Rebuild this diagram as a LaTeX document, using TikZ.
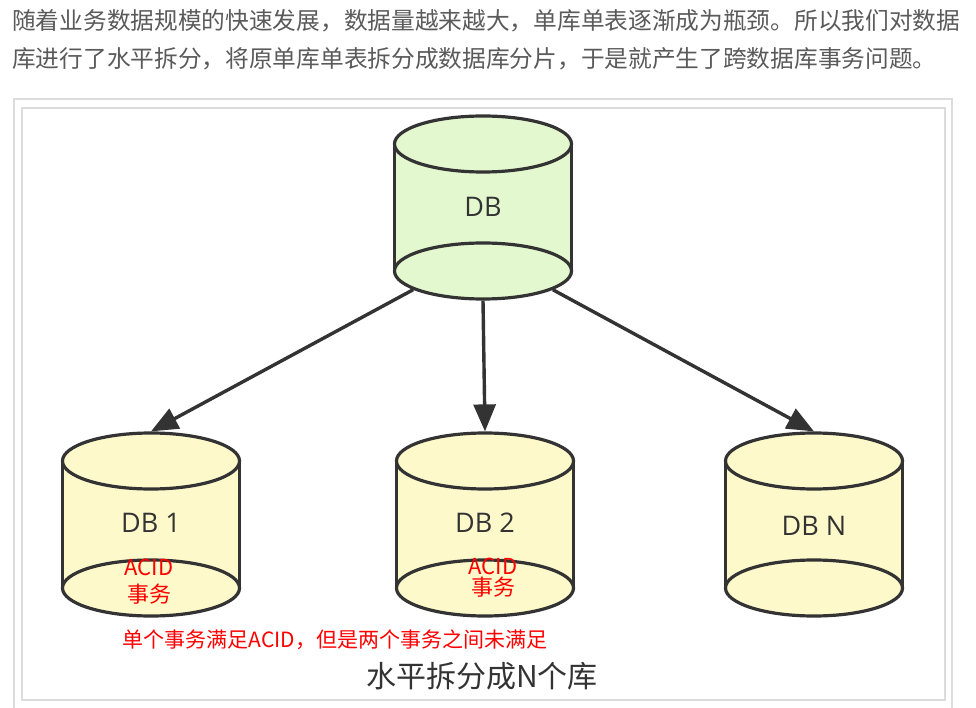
\documentclass[tikz,border=0pt]{standalone}
\usepackage{fontspec}
\setmainfont{Noto Sans CJK SC}
\newfontfamily\dbfont{Open Sans}
\usetikzlibrary{shapes.geometric,arrows.meta}
\definecolor{ink}{HTML}{333333}
\definecolor{dbgreen}{HTML}{E4F8CF}
\definecolor{dbyellow}{HTML}{FDF9CB}
\definecolor{headgray}{HTML}{5A5A5A}
\definecolor{framegray}{HTML}{DCDCDC}
\begin{document}
\begin{tikzpicture}[x=1pt, y=-1pt,
    dbend/.style={draw=ink, ellipse, line width=3.2pt, inner sep=0pt, minimum width=177pt, minimum height=56pt},
    dblabel/.style={font=\dbfont\fontsize{27}{30}\selectfont, text=ink, inner sep=0pt},
    note/.style={text=red, align=center, inner sep=0pt},
    header/.style={anchor=west, inner sep=0pt, text=headgray, font=\fontsize{23.7}{28}\selectfont},
    link/.style={-{Triangle[length=27pt,width=22pt]}, line width=3.4pt, draw=ink}]
    \useasboundingbox (0,0) rectangle (976,708);
    % Intro text
    \node[header] (line1) at (12,21) {随着业务数据规模的快速发展，数据量越来越大，单库单表逐渐成为瓶颈。所以我们对数据};
    \node[header] (line2) at (12,59) {库进行了水平拆分，将原单库单表拆分成数据库分片，于是就产生了跨数据库事务问题。};
    % Frame
    \draw[framegray, line width=2pt] (14,99) rectangle (952,720);
    \draw[framegray, line width=1.5pt] (22,108) rectangle (945,700);
    % Cylinders
    \foreach \nm/\x/\yt/\yb/\col in {db/483/144/271/dbgreen, db1/151/461/588/dbyellow, db2/485/461/588/dbyellow, dbn/814/461/588/dbyellow} {
        \fill[\col] (\x-88.5,\yt) rectangle (\x+88.5,\yb);
        \draw[ink, line width=3.2pt] (\x-88.5,\yt) -- (\x-88.5,\yb) (\x+88.5,\yt) -- (\x+88.5,\yb);
        \node[dbend, fill=\col] (\nm-bot) at (\x,\yb) {};
        \node[dbend, fill=\col] (\nm-top) at (\x,\yt) {};
    }
    % Labels
    \node[dblabel] (dblbl) at (483,207) {DB};
    \node[dblabel] (db1lbl) at (151,523) {DB 1};
    \node[dblabel] (db2lbl) at (485,523) {DB 2};
    \node[dblabel] (dbnlbl) at (814,526) {DB N};
    \node[note, font=\fontsize{22}{27}\selectfont] (acid1) at (149,582) {ACID\\事务};
    \node[note, font=\fontsize{22}{21}\selectfont] (acid2) at (493,578) {ACID\\事务};
    \node[note, font=\fontsize{21}{24}\selectfont] (remark) at (335,640) {单个事务满足ACID，但是两个事务之间未满足};
    \node[inner sep=0pt, text=black!80, font=\fontsize{30}{32}\selectfont] (caption) at (482,676) {水平拆分成N个库};
    % Arrows
    \draw[link] (db-bot.195) -- (db1-top.north);
    \draw[link] (db-bot.south) -- (db2-top.north);
    \draw[link] (db-bot.345) -- (dbn-top.north);
\end{tikzpicture}
\end{document}
